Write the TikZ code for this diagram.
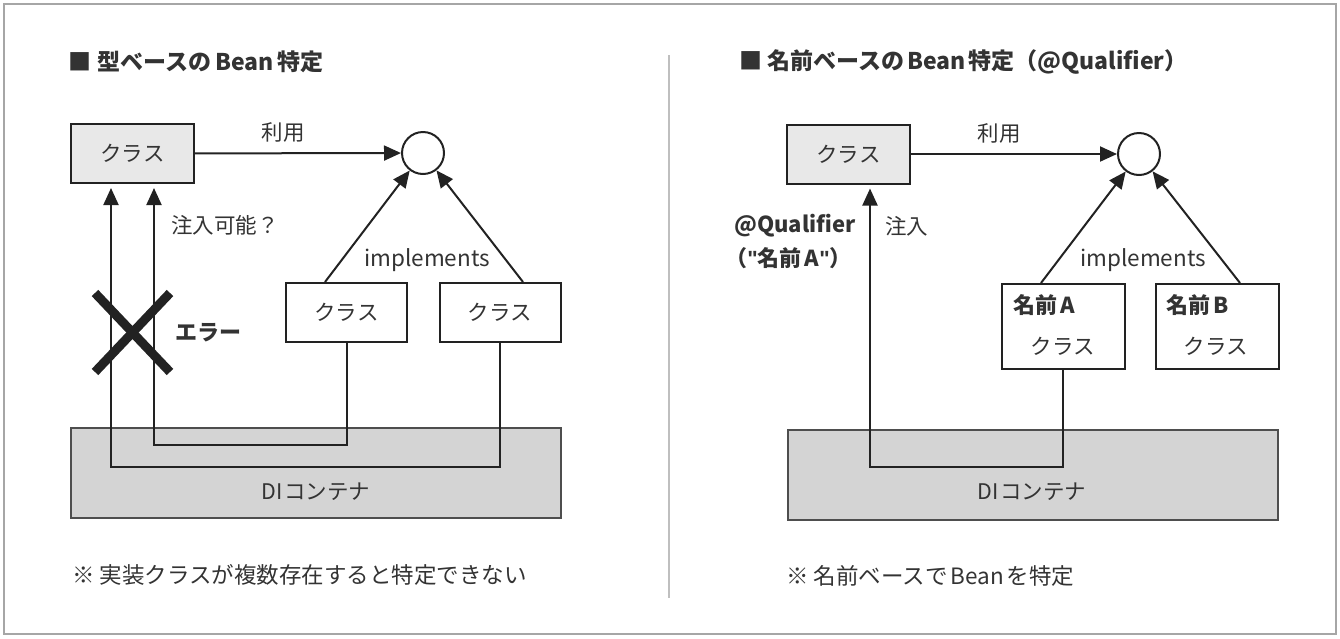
\documentclass[tikz,border=0pt]{standalone}
\usepackage{fontspec}
\setmainfont{Noto Sans CJK JP}
\newfontfamily\latq{Liberation Sans}
\usetikzlibrary{arrows.meta,calc}
\definecolor{ink}{HTML}{222222}
\definecolor{txt}{HTML}{333333}
\definecolor{clsfill}{HTML}{E8E8E8}
\definecolor{difill}{HTML}{D4D4D4}
\tikzset{
  fs/.style={font=\fontsize{21.5}{25}\selectfont},
  fsn/.style={font=\fontsize{22.5}{26}\selectfont},
  fsb/.style={font=\fontsize{22}{26}\selectfont\bfseries},
  fst/.style={font=\fontsize{23}{27}\selectfont\bfseries},
  usebox/.style={draw=ink,line width=2pt,fill=clsfill,minimum width=123pt,minimum height=59pt,inner sep=0pt,fs,text=txt},
  implbox/.style={draw=ink,line width=2pt,fill=white,minimum width=121pt,minimum height=59pt,inner sep=0pt,fs,text=txt},
  implbox2/.style={draw=ink,line width=2pt,fill=white,minimum width=123pt,minimum height=85pt,inner sep=0pt},
  dibox/.style={draw=ink!80,line width=2pt,fill=difill,minimum width=490pt,minimum height=90pt,inner sep=0pt},
  ifc/.style={circle,draw=ink,line width=2pt,fill=white,minimum size=42pt,inner sep=0pt},
  arr/.style={draw=ink,line width=2pt,-{Triangle[length=17pt,width=15pt]}},
  lbl/.style={fs,text=txt,inner sep=0pt},
  nlbl/.style={fsn,text=txt,inner sep=0pt},
  blbl/.style={fsb,text=txt,inner sep=0pt},
  tlbl/.style={fst,text=txt,inner sep=0pt},
}
\begin{document}
\begin{tikzpicture}[x=1pt,y=-1pt]
\useasboundingbox (0,0) rectangle (1340,638);
\draw[draw=gray!70,line width=1.5pt] (4,4) rectangle (1336,634);
\draw[draw=gray!50,line width=1.5pt] (669,55) -- (669,598);

% ---------- left panel ----------
\node[tlbl,anchor=west] (t1) at (68,62) {■\hspace{6pt}型ベースの\hspace{4pt}Bean\hspace{4pt}特定};
\node[dibox] (di1) at (316,473) {};
\node[lbl] (dil1) at (316,492) {DI\hspace{1pt}コンテナ};
\node[usebox] (cls1) at (132.5,153.5) {クラス};
\node[ifc] (if1) at (423,153) {};
\node[implbox] (ia1) at (346.5,312.5) {クラス};
\node[implbox] (ib1) at (500,312.5) {クラス};
\draw[arr] (cls1) -- (if1);
\node[lbl] (use1) at (283,132) {利用};
\draw[arr] ([xshift=-21.5pt]ia1.north) -- (if1);
\draw[arr] ([xshift=23pt]ib1.north) -- (if1);
\node[nlbl] (imp1) at (427,260) {implements};
\draw[arr,shorten >=4pt] (ia1.south) -- ++(0,102) -| ([xshift=21.5pt]cls1.south);
\draw[arr,shorten >=4pt] (ib1.south) -- ++(0,124) -| ([xshift=-21.5pt]cls1.south);
\node[lbl,anchor=west] (q1) at (171,225) {注入可能？};
\draw[draw=ink,line width=9pt] (95,293) -- (170,372);
\draw[draw=ink,line width=9pt] (95,372) -- (170,293);
\node[blbl,anchor=west] (err1) at (175,333) {エラー};
\node[nlbl,anchor=west] (n1) at (72,575) {※ 実装クラスが複数存在すると特定できない};

% ---------- right panel ----------
\node[tlbl,anchor=west] (t2) at (739,62) {■\hspace{5pt}名前ベースの\hspace{3pt}Bean\hspace{3pt}特定（@Qualifier）};
\node[dibox] (di2) at (1033,475) {};
\node[lbl] (dil2) at (1032,492) {DI\hspace{1pt}コンテナ};
\node[usebox] (cls2) at (848.5,154) {クラス};
\node[ifc] (if2) at (1139,154) {};
\node[implbox2] (ia2) at (1063,326.5) {};
\node[implbox2] (ib2) at (1217,326.5) {};
\node[blbl,anchor=west] (na) at (1013,305) {名前\hspace{3pt}A};
\node[lbl] (ca) at (1063,346) {クラス};
\node[blbl,anchor=west] (nb) at (1166,305) {名前\hspace{3pt}B};
\node[lbl] (cb) at (1216,346) {クラス};
\draw[arr] (cls2) -- (if2);
\node[lbl] (use2) at (999,133) {利用};
\draw[arr] ([xshift=-22pt]ia2.north) -- (if2);
\draw[arr] ([xshift=23pt]ib2.north) -- (if2);
\node[nlbl] (imp2) at (1143,260) {implements};
\draw[arr,shorten >=4pt] (ia2.south) -- ++(0,97) -| ([xshift=21.5pt]cls2.south);
\node[blbl,anchor=east] (qa) at (856,226) {@Qualifier};
\node[blbl,anchor=east] (qb) at (852,258) {（{\latq\bfseries"}名前\hspace{3pt}A{\latq\bfseries"}）};
\node[lbl,anchor=west] (inj) at (885,226) {注入};
\node[nlbl,anchor=west] (n2) at (786,576) {※ 名前ベースで\hspace{3pt}Bean\hspace{3pt}を特定};
\end{tikzpicture}
\end{document}
